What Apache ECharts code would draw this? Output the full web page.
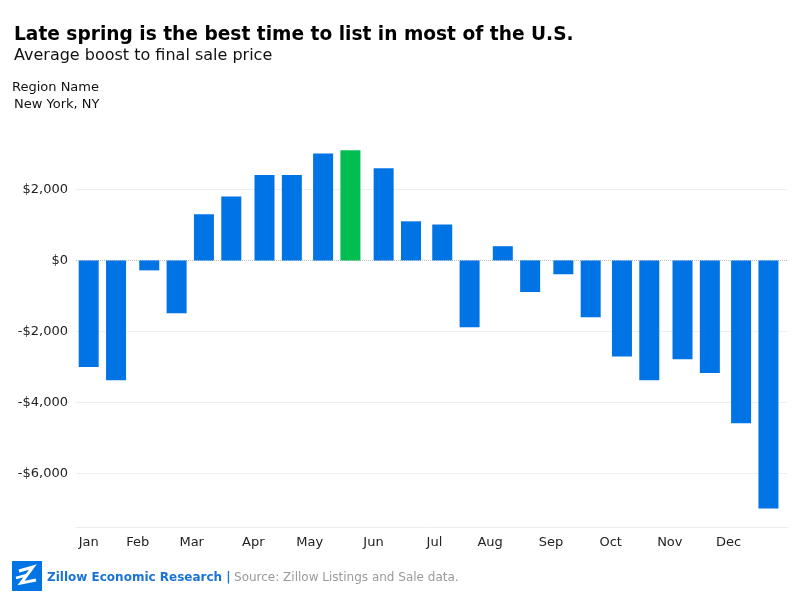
<!DOCTYPE html>
<html><head><meta charset="utf-8">
<script src="https://cdn.jsdelivr.net/npm/echarts@6/dist/echarts.min.js"></script>
<style>html,body{margin:0;padding:0;background:#fff}#c{width:799px;height:599px}</style>
</head><body><div id="c"></div>
<script>
// ---- data ----
const barDates = ['2019-01-01','2019-01-15','2019-02-01','2019-02-15','2019-03-01','2019-03-15',
  '2019-04-01','2019-04-15','2019-05-01','2019-05-15','2019-06-01','2019-06-15',
  '2019-07-01','2019-07-15','2019-08-01','2019-08-15','2019-09-01','2019-09-15',
  '2019-10-01','2019-10-15','2019-11-01','2019-11-15','2019-12-01','2019-12-15'];
const values = [-3000,-3370,-280,-1490,1300,1800,2400,2400,3010,3100,2590,1100,
  1010,-1880,400,-890,-390,-1600,-2700,-3370,-2780,-3170,-4580,-6980];
const monthLabels = ['Jan','Feb','Mar','Apr','May','Jun','Jul','Aug','Sep','Oct','Nov','Dec'];
const yTicks = [-6000,-4000,-2000,0,2000];
const highlightDate = '2019-05-15';
const axisStart = '2018-12-26';
const axisEnd = '2019-12-24';

// ---- day categories ----
const days = [];
for (let t = Date.parse(axisStart + 'T00:00:00Z'); t <= Date.parse(axisEnd + 'T00:00:00Z'); t += 86400000) {
  days.push(new Date(t).toISOString().slice(0, 10));
}
const isMonthStart = s => s.slice(8) === '01';
const xData = days.map(s => isMonthStart(s)
  ? { value: s, textStyle: { align: s.slice(5, 7) === '01' ? 'center' : 'right' } }
  : s);

const fmtMoney = v => (v < 0 ? '-$' : '$') + Math.abs(v).toLocaleString('en-US');

const chart = echarts.init(document.getElementById('c'), null, { renderer: 'canvas' });
chart.setOption({
  backgroundColor: '#fff',
  animation: false,
  textStyle: { fontFamily: 'DejaVu Sans' },
  title: [
    { text: 'Late spring is the best time to list in most of the U.S.', left: 9, top: 21,
      textStyle: { fontSize: 18.6, fontWeight: 'bold', color: '#000', fontFamily: 'DejaVu Sans' } },
    { text: 'Average boost to final sale price', left: 9, top: 43,
      textStyle: { fontSize: 16, fontWeight: 'normal', color: '#111', fontFamily: 'DejaVu Sans' } },
    { text: 'Region Name', left: 7, top: 76,
      textStyle: { fontSize: 13, fontWeight: 'normal', color: '#111', fontFamily: 'DejaVu Sans' } },
    { text: 'New York, NY', left: 9, top: 93,
      textStyle: { fontSize: 13, fontWeight: 'normal', color: '#111', fontFamily: 'DejaVu Sans' } }
  ],
  grid: { left: 76, right: 12, top: 136, bottom: 72, containLabel: false },
  xAxis: {
    type: 'category',
    data: xData,
    boundaryGap: true,
    axisLine: { show: true, onZero: false, lineStyle: { color: '#ececec', width: 1 } },
    axisTick: { show: false },
    splitLine: { show: false },
    axisLabel: {
      interval: (i, v) => isMonthStart(v),
      formatter: v => isMonthStart(v) ? monthLabels[+v.slice(5, 7) - 1] : '',
      fontSize: 13, color: '#222', margin: 9, fontFamily: 'DejaVu Sans'
    }
  },
  yAxis: {
    type: 'value',
    min: -7500, max: 3500,
    axisLine: { show: false },
    axisTick: { show: false },
    splitLine: { show: false },
    axisLabel: {
      formatter: v => yTicks.indexOf(v) >= 0 ? fmtMoney(v) : '',
      showMinLabel: false, showMaxLabel: false,
      fontSize: 13, color: '#222', margin: 8, fontFamily: 'DejaVu Sans'
    }
  },
  series: [{
    type: 'bar',
    barWidth: 20,
    data: barDates.map((d, i) => ({
      value: [d, values[i]],
      itemStyle: { color: d === highlightDate ? '#00BE50' : '#0074E4' }
    })),
    markLine: {
      silent: true, symbol: 'none', z: 1,
      label: { show: false },
      data: yTicks.map(t => ({
        yAxis: t,
        lineStyle: t === 0
          ? { type: 'dotted', color: '#bdbdbd', width: 1 }
          : { type: 'solid', color: '#efefef', width: 1 }
      }))
    }
  }],
  graphic: [
    { type: 'rect', shape: { x: 12, y: 561, width: 30, height: 30 }, style: { fill: '#0074E4' } },
    { type: 'polyline', shape: { points: [[19, 571], [33, 567], [21, 583], [36, 580]] },
      style: { stroke: '#fff', lineWidth: 3, fill: null } },
    { type: 'polyline', shape: { points: [[16, 578], [27, 575]] },
      style: { stroke: '#fff', lineWidth: 2.5, fill: null } },
    { type: 'text', left: 47, top: 572,
      style: {
        text: '{a|Zillow Economic Research |} {b|Source: Zillow Listings and Sale data.}',
        rich: {
          a: { fontSize: 12, fontWeight: 'bold', fill: '#1A73D8', fontFamily: 'DejaVu Sans' },
          b: { fontSize: 12, fill: '#9a9a9a', fontFamily: 'DejaVu Sans' }
        }
      } }
  ]
});
</script>
</body></html>
